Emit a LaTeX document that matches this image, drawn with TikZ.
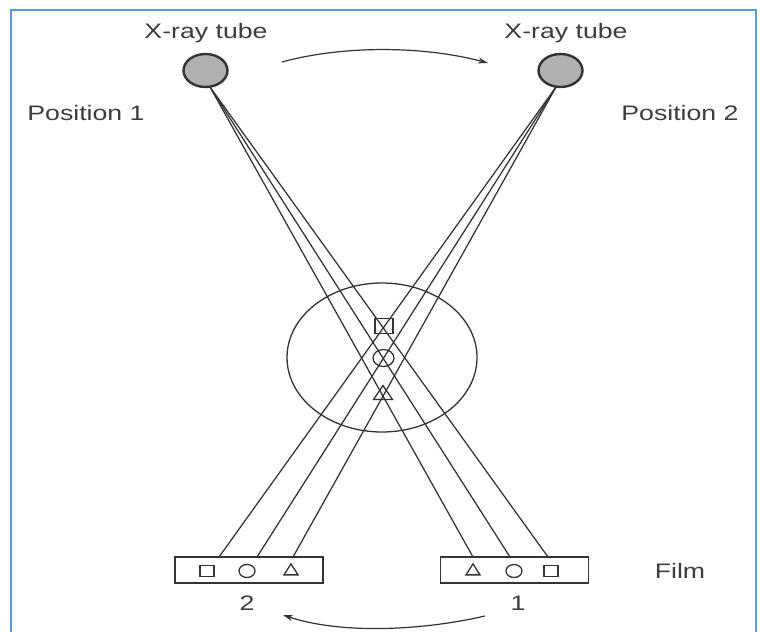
\documentclass[tikz,border=0pt]{standalone}
\usepackage{fontspec}
\usetikzlibrary{shapes.geometric,arrows.meta}
\newfontfamily\labfont[FakeStretch=1.27]{Liberation Sans}
\definecolor{ink}{HTML}{333333}
\definecolor{framecol}{HTML}{5B9BD5}
\definecolor{tubefill}{HTML}{B0B0B0}
\tikzset{
  lbl/.style={font=\labfont\fontsize{21}{24}\selectfont, text=ink!95, inner sep=0pt},
  tube/.style={draw=ink, line width=2.4pt, fill=tubefill, ellipse, minimum width=44, minimum height=33, inner sep=0pt},
  film/.style={draw=ink, line width=1.6pt, fill=white, rectangle, minimum width=148, minimum height=26, inner sep=0pt},
  ray/.style={draw=ink, line width=1.25pt},
  obj/.style={draw=ink, line width=1.3pt, inner sep=0pt},
  turn/.style={draw=ink, line width=1.2pt, -{Stealth[length=10pt,width=6pt]}}
}
\begin{document}
\begin{tikzpicture}[x=1pt,y=-1pt]
\useasboundingbox (0,0) rectangle (760,632);
\fill[white] (0,0) rectangle (760,632);
\draw[framecol, line width=1.8pt] (11,632) -- (11,10) -- (756,10) -- (756,632);

\node[lbl] (lt1) at (206,33) {X-ray tube};
\node[lbl] (lt2) at (566,33) {X-ray tube};
\node[lbl] (lp1) at (86,113) {Position 1};
\node[lbl] (lp2) at (680,113) {Position 2};
\node[lbl] (lfilm) at (680,571) {Film};
\node[lbl] (ln2) at (247,603) {2};
\node[lbl] (ln1) at (518,603) {1};

\node[film] (f2) at (249,570) {};
\node[film] (f1) at (514.5,570) {};

\node[tube] (t1) at (205.5,70.5) {};
\node[tube] (t2) at (560.5,70.5) {};

\coordinate (a1) at (473,557);
\coordinate (a2) at (510,557);
\coordinate (a3) at (548,557);
\coordinate (b1) at (219,557);
\coordinate (b2) at (257,557);
\coordinate (b3) at (293,557);
\coordinate (s1) at (210,87);
\coordinate (s2) at (556,87);

\draw[ray] (s1) -- (a1);
\draw[ray] (s1) -- (a2);
\draw[ray] (s1) -- (a3);
\draw[ray] (s2) -- (b1);
\draw[ray] (s2) -- (b2);
\draw[ray] (s2) -- (b3);

\node[obj, ellipse, minimum width=190, minimum height=149] (body) at (382,357.5) {};

\node[obj, rectangle, minimum width=18, minimum height=15] (osq) at (384,326) {};
\node[obj, ellipse, minimum width=21, minimum height=17] (oci) at (383.5,358) {};
\node[obj, isosceles triangle, isosceles triangle apex angle=70, shape border rotate=90, minimum height=14, minimum width=19, isosceles triangle stretches] (otr) at (383,394.5) {};

\node[obj, rectangle, minimum width=14, minimum height=11] (f2s) at (207,571) {};
\node[obj, ellipse, minimum width=16, minimum height=13] (f2c) at (247,571) {};
\node[obj, isosceles triangle, shape border rotate=90, minimum height=11, minimum width=14, isosceles triangle stretches] (f2t) at (291,571) {};
\node[obj, isosceles triangle, shape border rotate=90, minimum height=11, minimum width=14, isosceles triangle stretches] (f1t) at (473,571) {};
\node[obj, ellipse, minimum width=16, minimum height=13] (f1c) at (514,571) {};
\node[obj, rectangle, minimum width=14, minimum height=11] (f1s) at (551,571) {};

\coordinate (u1) at (282,62);
\coordinate (u2) at (488,63);
\coordinate (v1) at (485,616);
\coordinate (v2) at (283,615);
\draw[turn] (u1) .. controls (340,46) and (420,45) .. (u2);
\draw[turn] (v1) .. controls (420,631) and (340,634) .. (v2);
\end{tikzpicture}
\end{document}
